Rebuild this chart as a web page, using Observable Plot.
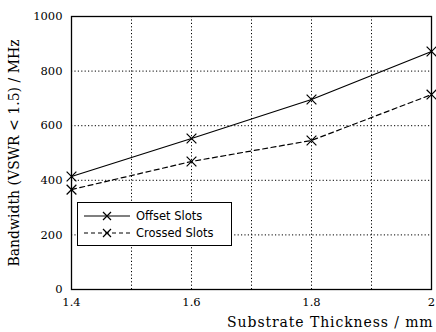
<!DOCTYPE html>
<html>
<head>
<meta charset="utf-8">
<script src="https://cdn.jsdelivr.net/npm/d3@7"></script>
<script src="https://cdn.jsdelivr.net/npm/@observablehq/plot@0.6"></script>
<style>
  html, body { margin: 0; padding: 0; background: #fff; }
  #wrap { position: relative; width: 436px; height: 332px; }
  #legend { position: absolute; left: 77px; top: 202px; width: 155px; height: 44px; border: 1px solid #000; background: #fff; box-sizing: border-box; font-family: "DejaVu Sans", sans-serif; font-size: 11.5px; color: #000; }
  .row { position: absolute; left: 6px; height: 16px; display: flex; align-items: center; }
  .row span { margin-left: 6px; }
</style>
</head>
<body>
<div id="wrap"></div>
<script>
const thickness = [1.4, 1.6, 1.8, 2.0];
const offsetSlots = [414, 553, 696, 872];
const crossedSlots = [366, 469, 546, 714];
const seriesNames = ["Offset Slots", "Crossed Slots"];
const xTicks = [1.4, 1.6, 1.8, 2];
const xGrid = [1.5, 1.6, 1.7, 1.8, 1.9];
const yTicks = [0, 200, 400, 600, 800, 1000];
const yGrid = [200, 400, 600, 800];

const offsetData = thickness.map((t, i) => ({t, v: offsetSlots[i]}));
const crossedData = thickness.map((t, i) => ({t, v: crossedSlots[i]}));

const chart = Plot.plot({
  width: 436,
  height: 332,
  marginLeft: 71,
  marginRight: 5,
  marginTop: 16,
  marginBottom: 43,
  style: {fontFamily: "DejaVu Serif, serif", fontSize: "11px", color: "#000", background: "#fff"},
  x: {domain: [1.4, 2.0]},
  y: {domain: [0, 1000]},
  marks: [
    Plot.gridX(xGrid, {stroke: "#000", strokeOpacity: 1, strokeDasharray: "1.2,2.2", strokeWidth: 1}),
    Plot.gridY(yGrid, {stroke: "#000", strokeOpacity: 1, strokeDasharray: "1.2,2.2", strokeWidth: 1}),
    Plot.axisX(xTicks, {tickSize: 0, tickPadding: 8, tickFormat: d => String(d), fontSize: 11.5,
      label: "Substrate Thickness / mm", labelAnchor: "right", labelArrow: "none", labelOffset: 37}),
    Plot.axisY(yTicks, {tickSize: 0, tickPadding: 9, tickFormat: d => String(d), fontSize: 11.5,
      label: "Bandwidth (VSWR < 1.5) / MHz", labelAnchor: "center", labelArrow: "none", labelOffset: 62}),
    Plot.frame({stroke: "#000", strokeWidth: 1.3}),
    Plot.line(offsetData, {x: "t", y: "v", stroke: "#000", strokeWidth: 1.2}),
    Plot.line(crossedData, {x: "t", y: "v", stroke: "#000", strokeWidth: 1.2, strokeDasharray: "5,3.5"}),
    Plot.dot(offsetData, {x: "t", y: "v", symbol: "times", r: 4.5, stroke: "#000", strokeWidth: 1.2}),
    Plot.dot(crossedData, {x: "t", y: "v", symbol: "times", r: 4.5, stroke: "#000", strokeWidth: 1.2})
  ]
});
chart.querySelectorAll("[aria-label='y-axis label']").forEach(g => g.setAttribute("font-size", "14"));
chart.querySelectorAll("[aria-label='x-axis label']").forEach(g => { g.setAttribute("font-size", "14"); g.setAttribute("letter-spacing", "0.9"); });

const wrap = document.getElementById("wrap");
wrap.appendChild(chart);

const legend = document.createElement("div");
legend.id = "legend";
const dashes = ["none", "4,3"];
seriesNames.forEach((name, i) => {
  const row = document.createElement("div");
  row.className = "row";
  row.style.top = (5 + i * 17) + "px";
  row.innerHTML = `<svg width="46" height="12"><line x1="0" y1="6" x2="46" y2="6" stroke="#000" stroke-width="1.1" ${dashes[i] === "none" ? "" : `stroke-dasharray="${dashes[i]}"`}/><path d="M19,2L27,10M27,2L19,10" stroke="#000" stroke-width="1.2"/></svg><span>${name}</span>`;
  legend.appendChild(row);
});
wrap.appendChild(legend);
</script>
</body>
</html>
